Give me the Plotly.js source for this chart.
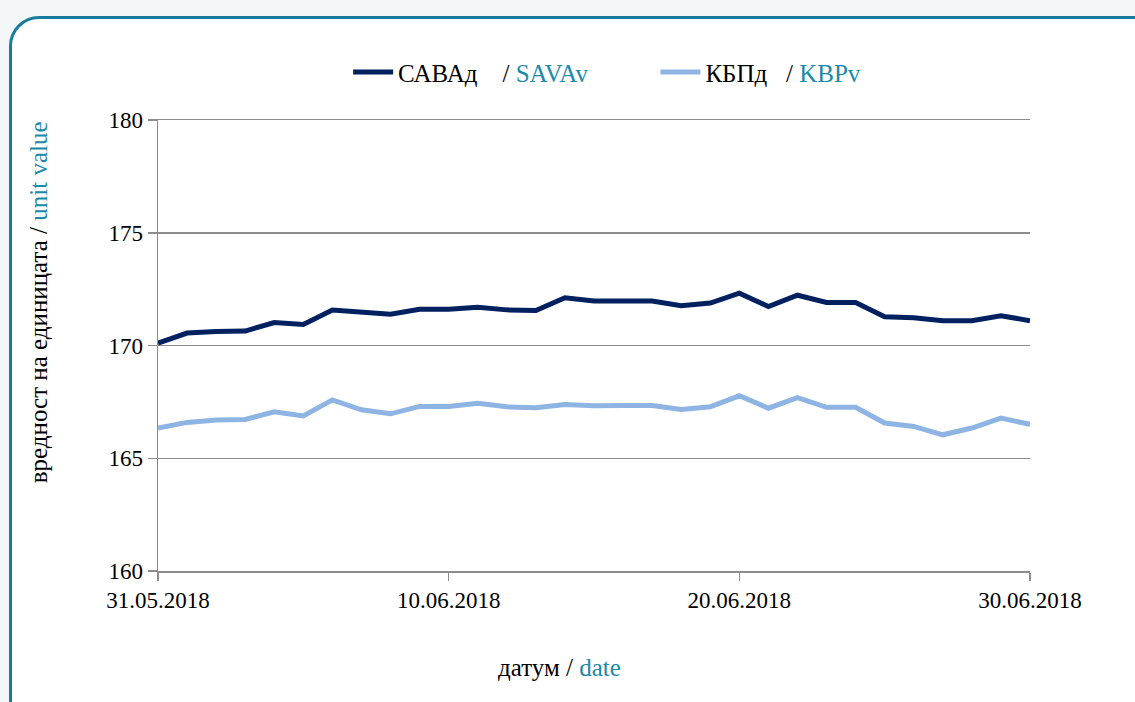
<!DOCTYPE html>
<html><head><meta charset="utf-8">
<script src="https://cdn.plot.ly/plotly-3.0.1.min.js"></script>
<style>
html,body{margin:0;padding:0;width:1135px;height:702px;overflow:hidden;background:#f2f6f8;}
#box{position:absolute;left:9px;top:16px;width:1160px;height:720px;border:3px solid #1a7c9c;border-radius:30px;background:#fff;box-sizing:border-box;}
#chart{position:absolute;left:0;top:0;width:1135px;height:702px;}
</style></head>
<body>
<div id="box"></div>
<div id="chart"></div>
<script>
const dates = ['2018-05-31','2018-06-01','2018-06-02','2018-06-03','2018-06-04','2018-06-05','2018-06-06','2018-06-07','2018-06-08','2018-06-09','2018-06-10','2018-06-11','2018-06-12','2018-06-13','2018-06-14','2018-06-15','2018-06-16','2018-06-17','2018-06-18','2018-06-19','2018-06-20','2018-06-21','2018-06-22','2018-06-23','2018-06-24','2018-06-25','2018-06-26','2018-06-27','2018-06-28','2018-06-29','2018-06-30'];
const savaValues = [170.10,170.55,170.62,170.64,171.02,170.93,171.57,171.46,171.39,171.61,171.61,171.70,171.58,171.55,172.12,171.97,171.97,171.97,171.76,171.88,172.32,171.73,172.23,171.91,171.91,171.27,171.23,171.10,171.10,171.32,171.10];
const kbpValues = [166.34,166.59,166.70,166.72,167.06,166.88,167.59,167.15,166.97,167.30,167.30,167.44,167.28,167.24,167.38,167.33,167.34,167.34,167.16,167.28,167.77,167.22,167.69,167.26,167.26,166.56,166.41,166.04,166.34,166.78,166.50];
const xTickVals = ['2018-05-31','2018-06-10','2018-06-20','2018-06-30'];
const xTickText = ['31.05.2018','10.06.2018','20.06.2018','30.06.2018'];
const yTickVals = [160,165,170,175,180];
const seriesNames = ['САВАд', 'КБПд'];
const seriesNamesEn = ['SAVAv', 'KBPv'];
const xTitle = ['датум', 'date'];
const yTitle = ['вредност на единицата', 'unit value'];

const FONT = 'Liberation Serif, serif';
const TEAL = '#1a8aaa';
function teal(t) {
  return '<span style="color:' + TEAL + ';font-family:Liberation Serif">' + t + '</span>';
}
function legendName(i, gap, pad) {
  return seriesNames[i] + gap + '/ ' + teal(seriesNamesEn[i]) + pad;
}
const NB = '&nbsp;';
const traces = [
  {x: dates, y: savaValues, name: legendName(0, NB.repeat(4), NB.repeat(10)), type: 'scatter', mode: 'lines', line: {color: '#002060', width: 5}},
  {x: dates, y: kbpValues, name: legendName(1, NB.repeat(3), ''), type: 'scatter', mode: 'lines', line: {color: '#8eb4e3', width: 5}}
];
const layout = {
  width: 1135, height: 702,
  paper_bgcolor: 'rgba(0,0,0,0)', plot_bgcolor: 'rgba(0,0,0,0)',
  margin: {l: 158, r: 105, t: 120, b: 131},
  font: {family: FONT, size: 23, color: '#000'},
  showlegend: true,
  legend: {orientation: 'h', x: 0.218, xanchor: 'left', y: 0.897, yanchor: 'middle', yref: 'container', font: {family: FONT, size: 25, color: '#000'}, itemwidth: 40},
  xaxis: {
    type: 'date', range: ['2018-05-31', '2018-06-30'],
    tickvals: xTickVals, ticktext: xTickText,
    showgrid: false, zeroline: false,
    showline: true, mirror: true, linecolor: '#8c8c8c', linewidth: 1.5,
    ticks: 'outside', ticklen: 8, tickcolor: '#8c8c8c', tickwidth: 1.5,
    tickfont: {family: FONT, size: 23, color: '#000'}
  },
  yaxis: {
    range: [160, 180], tickvals: yTickVals,
    showgrid: true, gridcolor: '#8c8c8c', gridwidth: 1.5, zeroline: false,
    showline: true, linecolor: '#8c8c8c', linewidth: 1.5,
    ticks: 'outside', ticklen: 9, tickcolor: '#8c8c8c', tickwidth: 1.5,
    tickfont: {family: FONT, size: 23, color: '#000'}
  },
  annotations: [
    {xref: 'paper', yref: 'paper', x: 0.461, y: -0.213, xanchor: 'center', yanchor: 'middle', showarrow: false,
     text: xTitle[0] + ' / ' + teal(xTitle[1]), font: {family: FONT, size: 25, color: '#000'}},
    {xref: 'paper', yref: 'paper', x: -0.1376, y: 0.596, xanchor: 'center', yanchor: 'middle', showarrow: false, textangle: -90,
     text: yTitle[0] + ' / ' + teal(yTitle[1]), font: {family: FONT, size: 25, color: '#000'}}
  ]
};
Plotly.newPlot('chart', traces, layout, {displayModeBar: false, staticPlot: true});
</script>
</body></html>
